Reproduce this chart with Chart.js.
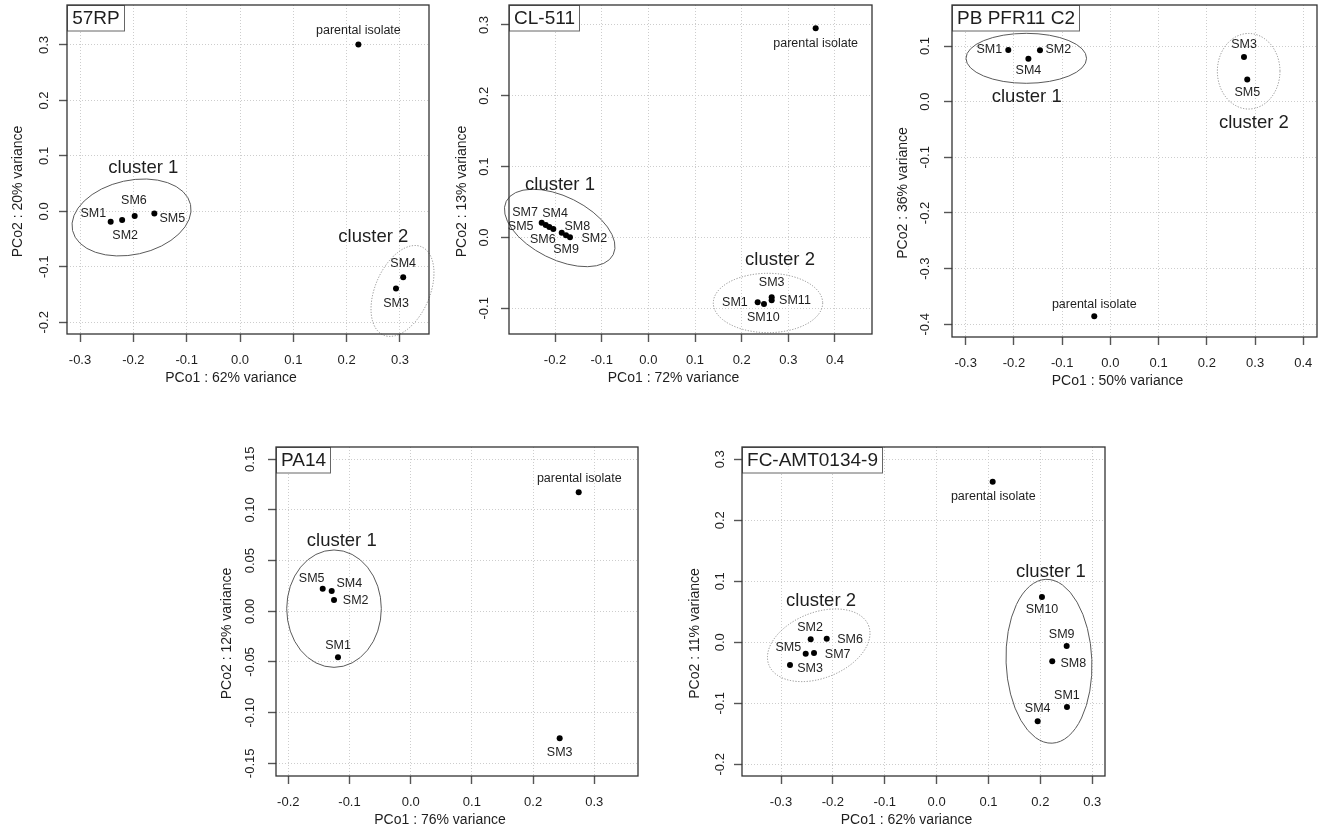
<!DOCTYPE html>
<html><head><meta charset="utf-8">
<script src="https://cdn.jsdelivr.net/npm/chart.js@4.4.1/dist/chart.umd.min.js"></script>
<style>
html,body{margin:0;padding:0;background:#fff;}
body{width:1325px;height:834px;position:relative;overflow:hidden;}
canvas{position:absolute;}
</style></head><body>
<script>
// ===== DATA =====
// Panel 1: 57RP
const p1Title = "57RP";
const p1Names = ["parental isolate","SM1","SM2","SM6","SM5","SM4","SM3"];
const p1X = [0.222,-0.2425,-0.221,-0.1975,-0.1606,0.306,0.2925];
const p1Y = [0.301,-0.0186,-0.0155,-0.0083,-0.004,-0.119,-0.139];
const p1XTicks = [-0.3,-0.2,-0.1,0,0.1,0.2,0.3];
const p1XTickLabels = ["-0.3","-0.2","-0.1","0.0","0.1","0.2","0.3"];
const p1YTicks = [-0.2,-0.1,0,0.1,0.2,0.3];
const p1YTickLabels = ["-0.2","-0.1","0.0","0.1","0.2","0.3"];
const p1XTitle = "PCo1 : 62% variance";
const p1YTitle = "PCo2 : 20% variance";
const p1Clusters = [
  {name:"cluster 1", lx:-0.1813, ly:0.0777, cx:-0.2034, cy:-0.011, rx:0.1133, ry:0.0669, angle:-12.4, dotted:false},
  {name:"cluster 2", lx:0.25, ly:-0.0467, cx:0.3047, cy:-0.1435, rx:0.0512, ry:0.0867, angle:23.3, dotted:true}
];

// Panel 2: CL-511
const p2Title = "CL-511";
const p2Names = ["parental isolate","SM7","SM4","SM5","SM6","SM8","SM9","SM2","SM1","SM10","SM3","SM11"];
const p2X = [0.3586,-0.2285,-0.2199,-0.2122,-0.2036,-0.1856,-0.1764,-0.1679,0.2343,0.2478,0.2643,0.2643];
const p2Y = [0.2953,0.0209,0.0176,0.0148,0.012,0.0068,0.0031,0.0003,-0.0915,-0.0939,-0.0845,-0.0887];
const p2XTicks = [-0.2,-0.1,0,0.1,0.2,0.3,0.4];
const p2XTickLabels = ["-0.2","-0.1","0.0","0.1","0.2","0.3","0.4"];
const p2YTicks = [-0.1,0,0.1,0.2,0.3];
const p2YTickLabels = ["-0.1","0.0","0.1","0.2","0.3"];
const p2XTitle = "PCo1 : 72% variance";
const p2YTitle = "PCo2 : 13% variance";
const p2Clusters = [
  {name:"cluster 1", lx:-0.1893, ly:0.0741, cx:-0.1899, cy:0.0134, rx:0.1281, ry:0.0443, angle:26.5, dotted:false},
  {name:"cluster 2", lx:0.2821, ly:-0.0318, cx:0.2564, cy:-0.0925, rx:0.1172, ry:0.0419, angle:0, dotted:true}
];

// Panel 3: PB PFR11 C2
const p3Title = "PB PFR11 C2";
const p3Names = ["parental isolate","SM1","SM2","SM4","SM3","SM5"];
const p3X = [-0.0334,-0.2117,-0.146,-0.170,0.277,0.2838];
const p3Y = [-0.3856,0.0928,0.0922,0.0772,0.0802,0.040];
const p3XTicks = [-0.3,-0.2,-0.1,0,0.1,0.2,0.3,0.4];
const p3XTickLabels = ["-0.3","-0.2","-0.1","0.0","0.1","0.2","0.3","0.4"];
const p3YTicks = [-0.4,-0.3,-0.2,-0.1,0,0.1];
const p3YTickLabels = ["-0.4","-0.3","-0.2","-0.1","0.0","0.1"];
const p3XTitle = "PCo1 : 50% variance";
const p3YTitle = "PCo2 : 36% variance";
const p3Clusters = [
  {name:"cluster 1", lx:-0.1735, ly:0.0089, cx:-0.1744, cy:0.0779, rx:0.125, ry:0.0449, angle:0, dotted:false},
  {name:"cluster 2", lx:0.2976, ly:-0.0378, cx:0.2867, cy:0.0547, rx:0.0649, ry:0.0679, angle:0, dotted:true}
];

// Panel 4: PA14
const p4Title = "PA14";
const p4Names = ["parental isolate","SM5","SM4","SM2","SM1","SM3"];
const p4X = [0.2745,-0.1438,-0.1291,-0.1253,-0.1188,0.2434];
const p4Y = [0.1174,0.0223,0.020,0.0112,-0.0454,-0.1253];
const p4XTicks = [-0.2,-0.1,0,0.1,0.2,0.3];
const p4XTickLabels = ["-0.2","-0.1","0.0","0.1","0.2","0.3"];
const p4YTicks = [-0.15,-0.10,-0.05,0,0.05,0.10,0.15];
const p4YTickLabels = ["-0.15","-0.10","-0.05","0.00","0.05","0.10","0.15"];
const p4XTitle = "PCo1 : 76% variance";
const p4YTitle = "PCo2 : 12% variance";
const p4Clusters = [
  {name:"cluster 1", lx:-0.1127, ly:0.0697, cx:-0.1253, cy:0.0026, rx:0.0773, ry:0.0579, angle:0, dotted:false}
];

// Panel 5: FC-AMT0134-9
const p5Title = "FC-AMT0134-9";
const p5Names = ["parental isolate","SM2","SM6","SM5","SM7","SM3","SM10","SM9","SM8","SM1","SM4"];
const p5X = [0.108,-0.2428,-0.2119,-0.2524,-0.2364,-0.2827,0.203,0.2506,0.2228,0.2512,0.1947];
const p5Y = [0.2633,0.0049,0.0059,-0.0187,-0.0175,-0.0372,0.0743,-0.006,-0.0312,-0.106,-0.1295];
const p5XTicks = [-0.3,-0.2,-0.1,0,0.1,0.2,0.3];
const p5XTickLabels = ["-0.3","-0.2","-0.1","0.0","0.1","0.2","0.3"];
const p5YTicks = [-0.2,-0.1,0,0.1,0.2,0.3];
const p5YTickLabels = ["-0.2","-0.1","0.0","0.1","0.2","0.3"];
const p5XTitle = "PCo1 : 62% variance";
const p5YTitle = "PCo2 : 11% variance";
const p5Clusters = [
  {name:"cluster 2", lx:-0.2229, ly:0.0682, cx:-0.2273, cy:-0.0049, rx:0.1033, ry:0.0538, angle:-21.6, dotted:true},
  {name:"cluster 1", lx:0.2203, ly:0.1157, cx:0.2165, cy:-0.0311, rx:0.0827, ry:0.1344, angle:-2.2, dotted:false}
];

// ===== LAYOUT (positions / styles) =====
const FONT = "'Liberation Sans', Arial, Helvetica, sans-serif";
const INK = '#1e1e1e';
const PADL = 75, PADR = 12, PADT = 5, PADB = 60;

const layout = [
  {rect:[67,5,429,334], xr:[-0.3244,0.3544], yr:[-0.2211,0.3721], yTickOff:23.5, yTitleOff:48.4,
   lab:[[0,-14],[-17.4,-8.4],[3,16],[-0.7,-15],[18,4.6],[0,-14],[0,15.3]]},
  {rect:[509,5,872,334], xr:[-0.2986,0.4793], yr:[-0.1363,0.3282], yTickOff:25, yTitleOff:47.3,
   lab:[[0,15],[-16.7,-10.4],[9.3,-11.7],[-28.6,-0.3],[-10.6,11],[15.6,-6],[0,14],[24.3,1.7],[-22.7,0],[-0.7,13.7],[0,-15],[23.3,0.7]]},
  {rect:[952,5,1317,337], xr:[-0.3284,0.4284], yr:[-0.4228,0.1737], yTickOff:27, yTitleOff:48.4,
   lab:[[0,-11.3],[-19,0],[18.3,-1],[0,12.3],[0,-12.7],[0,12.7]]},
  {rect:[276,447,638,776], xr:[-0.2201,0.3714], yr:[-0.1625,0.1621], yTickOff:25.7, yTitleOff:49,
   lab:[[0.6,-14],[-11,-10.4],[17.6,-7.7],[21.7,0.7],[0,-11.6],[0,14]]},
  {rect:[742,447,1105,776], xr:[-0.3752,0.3245], yr:[-0.2192,0.3202], yTickOff:22.3, yTitleOff:47.3,
   lab:[[0.6,15],[-0.7,-11.6],[23.3,0.6],[-17.4,-6],[23.7,1.7],[20,4],[0,13],[-5,-11],[21,2.7],[0,-11],[0,-12.6]]}
];

const panels = [
  {title:p1Title, names:p1Names, x:p1X, y:p1Y, xt:p1XTicks, xtl:p1XTickLabels, yt:p1YTicks, ytl:p1YTickLabels, xlab:p1XTitle, ylab:p1YTitle, clusters:p1Clusters},
  {title:p2Title, names:p2Names, x:p2X, y:p2Y, xt:p2XTicks, xtl:p2XTickLabels, yt:p2YTicks, ytl:p2YTickLabels, xlab:p2XTitle, ylab:p2YTitle, clusters:p2Clusters},
  {title:p3Title, names:p3Names, x:p3X, y:p3Y, xt:p3XTicks, xtl:p3XTickLabels, yt:p3YTicks, ytl:p3YTickLabels, xlab:p3XTitle, ylab:p3YTitle, clusters:p3Clusters},
  {title:p4Title, names:p4Names, x:p4X, y:p4Y, xt:p4XTicks, xtl:p4XTickLabels, yt:p4YTicks, ytl:p4YTickLabels, xlab:p4XTitle, ylab:p4YTitle, clusters:p4Clusters},
  {title:p5Title, names:p5Names, x:p5X, y:p5Y, xt:p5XTicks, xtl:p5XTickLabels, yt:p5YTicks, ytl:p5YTickLabels, xlab:p5XTitle, ylab:p5YTitle, clusters:p5Clusters}
];

function makeDeco(p, L) {
  return {
    id: 'deco',
    afterDatasetsDraw(chart) {
      const ctx = chart.ctx, xs = chart.scales.x, ys = chart.scales.y;
      const ux = xs.getPixelForValue(1) - xs.getPixelForValue(0);
      const uy = ys.getPixelForValue(0) - ys.getPixelForValue(1);
      ctx.save();
      p.clusters.forEach(c => {
        ctx.beginPath();
        ctx.setLineDash(c.dotted ? [1.2, 1.6] : []);
        ctx.strokeStyle = c.dotted ? '#8c8c8c' : '#5a5a5a';
        ctx.lineWidth = 1;
        ctx.ellipse(xs.getPixelForValue(c.cx), ys.getPixelForValue(c.cy), c.rx * ux, c.ry * uy, c.angle * Math.PI / 180, 0, 2 * Math.PI);
        ctx.stroke();
      });
      ctx.setLineDash([]);
      ctx.fillStyle = INK;
      ctx.textAlign = 'center';
      ctx.textBaseline = 'middle';
      ctx.font = '18.5px ' + FONT;
      p.clusters.forEach(c => ctx.fillText(c.name, xs.getPixelForValue(c.lx), ys.getPixelForValue(c.ly)));
      ctx.font = '12.5px ' + FONT;
      p.names.forEach((n, i) => {
        const px = xs.getPixelForValue(p.x[i]), py = ys.getPixelForValue(p.y[i]);
        ctx.fillText(n, px + L.lab[i][0], py + L.lab[i][1]);
      });
      ctx.restore();
    },
    afterDraw(chart) {
      const ctx = chart.ctx, a = chart.chartArea, ys = chart.scales.y;
      ctx.save();
      ctx.setLineDash([]);
      // title box
      ctx.font = '19px ' + FONT;
      const tw = Math.round(ctx.measureText(p.title).width + 9);
      ctx.fillStyle = '#fff';
      ctx.fillRect(a.left, a.top, tw, 26);
      ctx.strokeStyle = '#666';
      ctx.lineWidth = 1;
      ctx.strokeRect(a.left + 0.5, a.top + 0.5, tw, 25.5);
      ctx.fillStyle = INK;
      ctx.textAlign = 'center';
      ctx.textBaseline = 'middle';
      ctx.fillText(p.title, a.left + tw / 2 + 0.5, a.top + 13.5);
      // frame
      ctx.strokeStyle = '#333';
      ctx.lineWidth = 1.3;
      ctx.strokeRect(a.left, a.top, a.right - a.left, a.bottom - a.top);
      // axis titles
      ctx.font = '14px ' + FONT;
      ctx.fillText(p.xlab, (a.left + a.right) / 2 - 17, a.bottom + 44);
      ctx.save();
      ctx.translate(a.left - L.yTitleOff, (a.top + a.bottom) / 2 + 22);
      ctx.rotate(-Math.PI / 2);
      ctx.fillText(p.ylab, 0, 0);
      ctx.restore();
      // y tick labels (rotated, as in R)
      ctx.font = '13px ' + FONT;
      p.yt.forEach((v, i) => {
        ctx.save();
        ctx.translate(a.left - L.yTickOff + 0.6, ys.getPixelForValue(v));
        ctx.rotate(-Math.PI / 2);
        ctx.fillText(p.ytl[i], 0, 0);
        ctx.restore();
      });
      ctx.restore();
    }
  };
}

panels.forEach((p, k) => {
  const L = layout[k];
  const [l, t, r, b] = L.rect;
  const W = (r - l) + PADL + PADR;
  const H = (b - t) + PADT + PADB;
  const cv = document.createElement('canvas');
  cv.width = W; cv.height = H;
  cv.style.left = (l - PADL) + 'px';
  cv.style.top = (t - PADT) + 'px';
  cv.style.width = W + 'px';
  cv.style.height = H + 'px';
  document.body.appendChild(cv);
  const gridOpts = {color:'#cdcdcd', lineWidth:1, drawTicks:true, tickLength:8, tickColor:'#555', tickWidth:1.4, tickBorderDash:[]};
  new Chart(cv, {
    type: 'scatter',
    data: {datasets: [{
      data: p.x.map((v, i) => ({x: v, y: p.y[i]})),
      pointRadius: 3, pointHoverRadius: 3,
      backgroundColor: '#000', pointBackgroundColor: '#000',
      borderWidth: 0, pointBorderWidth: 0
    }]},
    options: {
      responsive: false, animation: false, devicePixelRatio: 1, events: [],
      layout: {padding: {top: PADT, right: PADR, left: 0, bottom: 0}},
      plugins: {legend: {display: false}, tooltip: {enabled: false}},
      scales: {
        x: {
          type: 'linear', position: 'bottom', min: L.xr[0], max: L.xr[1],
          afterBuildTicks: s => { s.ticks = p.xt.map(v => ({value: v})); },
          afterFit: s => { s.height = PADB; },
          ticks: {callback: (v, i) => p.xtl[i], font: {family: FONT, size: 13}, color: INK, padding: 11, maxRotation: 0, minRotation: 0, autoSkip: false},
          grid: gridOpts,
          border: {display: false, dash: [1, 2]}
        },
        y: {
          type: 'linear', position: 'left', min: L.yr[0], max: L.yr[1],
          afterBuildTicks: s => { s.ticks = p.yt.map(v => ({value: v})); },
          afterFit: s => { s.width = PADL; },
          ticks: {display: false},
          grid: gridOpts,
          border: {display: false, dash: [1, 2]}
        }
      }
    },
    plugins: [makeDeco(p, L)]
  });
});
</script>
</body></html>
